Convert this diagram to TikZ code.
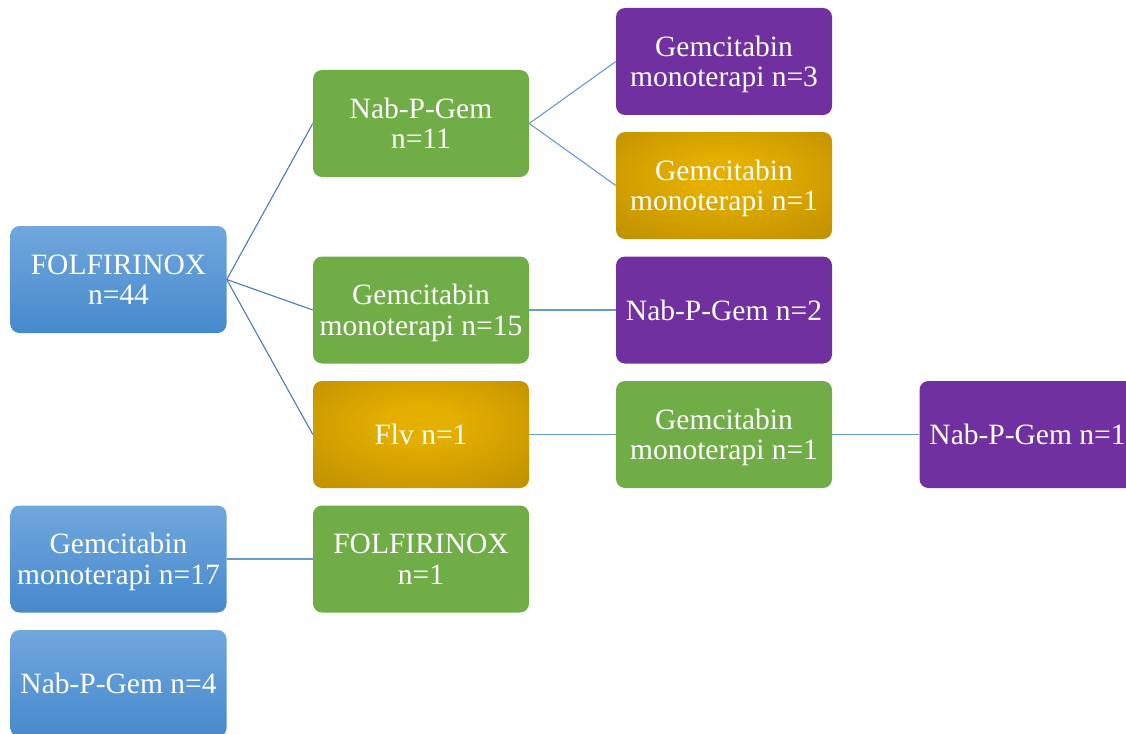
\documentclass[tikz,border=0pt]{standalone}
\usepackage{fontspec}
\setmainfont{Liberation Serif}
\definecolor{bluetop}{RGB}{112,167,221}
\definecolor{bluebot}{RGB}{70,137,204}
\definecolor{grn}{RGB}{112,173,71}
\definecolor{purp}{RGB}{112,48,160}
\definecolor{goldin}{RGB}{228,175,0}
\definecolor{goldout}{RGB}{183,137,0}
\definecolor{linedark}{RGB}{74,124,182}
\definecolor{linelight}{RGB}{104,154,210}
\pgfdeclareradialshading{goldrad}{\pgfpoint{0bp}{6bp}}{color(0bp)=(goldin); color(8bp)=(goldin); color(44bp)=(goldout); color(70bp)=(goldout)}
\begin{document}
\begin{tikzpicture}[x=1pt,y=-1pt,
  box/.style={rectangle, rounded corners=9pt, minimum width=216pt, minimum height=107pt,
    inner sep=0pt, align=center, text=white, text depth=0pt,
    font=\fontsize{29.5}{30.5}\selectfont},
  bluebox/.style={box, top color=bluetop, bottom color=bluebot},
  greenbox/.style={box, fill=grn},
  purplebox/.style={box, fill=purp},
  goldbox/.style={box, shading=goldrad},
  conn/.style={draw=linedark, line width=1.1pt},
  connl/.style={draw=linelight, line width=1.1pt}]
\useasboundingbox (0,0) rectangle (1126,733);
\begin{scope}
\clip (0,0) rectangle (1126,733);
\node[bluebox] (f44) at (118.5,279.5) {FOLFIRINOX\\n=44};
\node[bluebox] (g17) at (118.5,559) {Gemcitabin\\monoterapi n=17};
\node[bluebox] (n4) at (118.5,683.5) {Nab-P-Gem n=4};
\node[greenbox] (n11) at (421,123.5) {Nab-P-Gem\\n=11};
\node[greenbox] (g15) at (421,310) {Gemcitabin\\monoterapi n=15};
\node[goldbox] (flv) at (421,434.5) {Flv n=1};
\node[greenbox] (f1) at (421,559) {FOLFIRINOX\\n=1};
\node[purplebox] (g3) at (724,61.5) {Gemcitabin\\monoterapi n=3};
\node[goldbox] (g1a) at (724,185.5) {Gemcitabin\\monoterapi n=1};
\node[purplebox] (n2) at (724,310) {Nab-P-Gem n=2};
\node[greenbox] (g1b) at (724,434.5) {Gemcitabin\\monoterapi n=1};
\node[purplebox] (n1) at (1027.5,434.5) {Nab-P-Gem n=1};
\draw[conn] (f44.east) -- (n11.west);
\draw[conn] (f44.east) -- (g15.west);
\draw[conn] (f44.east) -- (flv.west);
\draw[connl] (n11.east) -- (g3.west);
\draw[connl] (n11.east) -- (g1a.west);
\draw[connl] (g15.east) -- (n2.west);
\draw[connl] (flv.east) -- (g1b.west);
\draw[connl] (g1b.east) -- (n1.west);
\draw[connl] (g17.east) -- (f1.west);
\end{scope}
\end{tikzpicture}
\end{document}
